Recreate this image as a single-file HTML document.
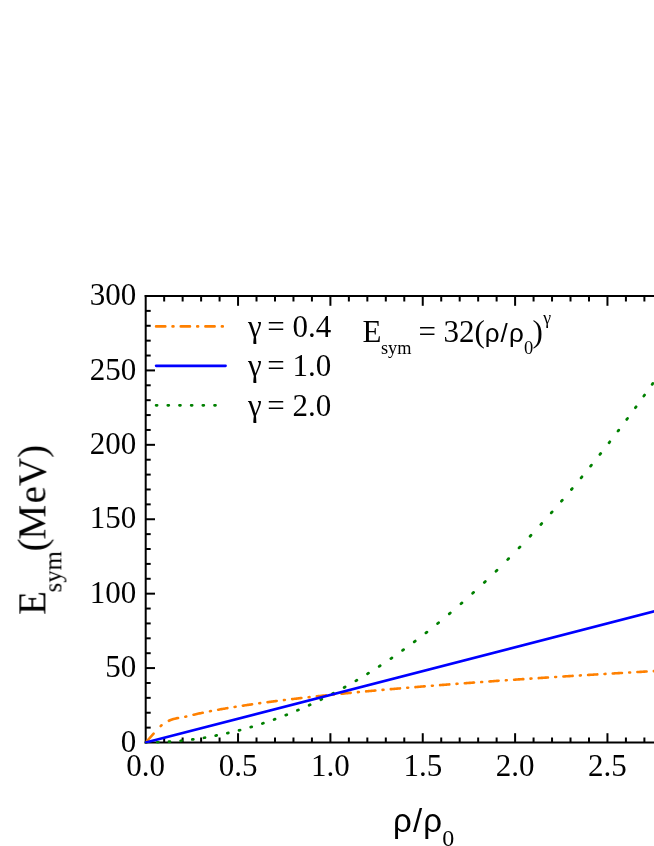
<!DOCTYPE html>
<html><head><meta charset="utf-8"><title>Esym</title>
<style>
html,body{margin:0;padding:0;background:#fff;}
body{width:654px;height:846px;overflow:hidden;font-family:"Liberation Serif",serif;}
svg{display:block;}
text{fill:#000;}
</style></head><body>
<svg width="654" height="846" viewBox="0 0 654 846">
<rect width="654" height="846" fill="#fff"/>
<g id="axes" stroke-linecap="butt">
<line x1="145.70" y1="295.00" x2="145.70" y2="743.50" stroke="#000" stroke-width="2.0"/>
<line x1="144.70" y1="296.00" x2="656.00" y2="296.00" stroke="#000" stroke-width="2.0"/>
<line x1="144.70" y1="742.50" x2="656.00" y2="742.50" stroke="#000" stroke-width="2.0"/>
<line x1="164.17" y1="742.50" x2="164.17" y2="737.50" stroke="#000" stroke-width="2.0"/>
<line x1="164.17" y1="296.00" x2="164.17" y2="301.50" stroke="#000" stroke-width="2.0"/>
<line x1="182.64" y1="742.50" x2="182.64" y2="737.50" stroke="#000" stroke-width="2.0"/>
<line x1="182.64" y1="296.00" x2="182.64" y2="301.50" stroke="#000" stroke-width="2.0"/>
<line x1="201.11" y1="742.50" x2="201.11" y2="737.50" stroke="#000" stroke-width="2.0"/>
<line x1="201.11" y1="296.00" x2="201.11" y2="301.50" stroke="#000" stroke-width="2.0"/>
<line x1="219.58" y1="742.50" x2="219.58" y2="737.50" stroke="#000" stroke-width="2.0"/>
<line x1="219.58" y1="296.00" x2="219.58" y2="301.50" stroke="#000" stroke-width="2.0"/>
<line x1="238.05" y1="742.50" x2="238.05" y2="733.20" stroke="#000" stroke-width="2.0"/>
<line x1="238.05" y1="296.00" x2="238.05" y2="305.80" stroke="#000" stroke-width="2.0"/>
<line x1="256.52" y1="742.50" x2="256.52" y2="737.50" stroke="#000" stroke-width="2.0"/>
<line x1="256.52" y1="296.00" x2="256.52" y2="301.50" stroke="#000" stroke-width="2.0"/>
<line x1="274.99" y1="742.50" x2="274.99" y2="737.50" stroke="#000" stroke-width="2.0"/>
<line x1="274.99" y1="296.00" x2="274.99" y2="301.50" stroke="#000" stroke-width="2.0"/>
<line x1="293.46" y1="742.50" x2="293.46" y2="737.50" stroke="#000" stroke-width="2.0"/>
<line x1="293.46" y1="296.00" x2="293.46" y2="301.50" stroke="#000" stroke-width="2.0"/>
<line x1="311.93" y1="742.50" x2="311.93" y2="737.50" stroke="#000" stroke-width="2.0"/>
<line x1="311.93" y1="296.00" x2="311.93" y2="301.50" stroke="#000" stroke-width="2.0"/>
<line x1="330.40" y1="742.50" x2="330.40" y2="733.20" stroke="#000" stroke-width="2.0"/>
<line x1="330.40" y1="296.00" x2="330.40" y2="305.80" stroke="#000" stroke-width="2.0"/>
<line x1="348.87" y1="742.50" x2="348.87" y2="737.50" stroke="#000" stroke-width="2.0"/>
<line x1="348.87" y1="296.00" x2="348.87" y2="301.50" stroke="#000" stroke-width="2.0"/>
<line x1="367.34" y1="742.50" x2="367.34" y2="737.50" stroke="#000" stroke-width="2.0"/>
<line x1="367.34" y1="296.00" x2="367.34" y2="301.50" stroke="#000" stroke-width="2.0"/>
<line x1="385.81" y1="742.50" x2="385.81" y2="737.50" stroke="#000" stroke-width="2.0"/>
<line x1="385.81" y1="296.00" x2="385.81" y2="301.50" stroke="#000" stroke-width="2.0"/>
<line x1="404.28" y1="742.50" x2="404.28" y2="737.50" stroke="#000" stroke-width="2.0"/>
<line x1="404.28" y1="296.00" x2="404.28" y2="301.50" stroke="#000" stroke-width="2.0"/>
<line x1="422.75" y1="742.50" x2="422.75" y2="733.20" stroke="#000" stroke-width="2.0"/>
<line x1="422.75" y1="296.00" x2="422.75" y2="305.80" stroke="#000" stroke-width="2.0"/>
<line x1="441.22" y1="742.50" x2="441.22" y2="737.50" stroke="#000" stroke-width="2.0"/>
<line x1="441.22" y1="296.00" x2="441.22" y2="301.50" stroke="#000" stroke-width="2.0"/>
<line x1="459.69" y1="742.50" x2="459.69" y2="737.50" stroke="#000" stroke-width="2.0"/>
<line x1="459.69" y1="296.00" x2="459.69" y2="301.50" stroke="#000" stroke-width="2.0"/>
<line x1="478.16" y1="742.50" x2="478.16" y2="737.50" stroke="#000" stroke-width="2.0"/>
<line x1="478.16" y1="296.00" x2="478.16" y2="301.50" stroke="#000" stroke-width="2.0"/>
<line x1="496.63" y1="742.50" x2="496.63" y2="737.50" stroke="#000" stroke-width="2.0"/>
<line x1="496.63" y1="296.00" x2="496.63" y2="301.50" stroke="#000" stroke-width="2.0"/>
<line x1="515.10" y1="742.50" x2="515.10" y2="733.20" stroke="#000" stroke-width="2.0"/>
<line x1="515.10" y1="296.00" x2="515.10" y2="305.80" stroke="#000" stroke-width="2.0"/>
<line x1="533.57" y1="742.50" x2="533.57" y2="737.50" stroke="#000" stroke-width="2.0"/>
<line x1="533.57" y1="296.00" x2="533.57" y2="301.50" stroke="#000" stroke-width="2.0"/>
<line x1="552.04" y1="742.50" x2="552.04" y2="737.50" stroke="#000" stroke-width="2.0"/>
<line x1="552.04" y1="296.00" x2="552.04" y2="301.50" stroke="#000" stroke-width="2.0"/>
<line x1="570.51" y1="742.50" x2="570.51" y2="737.50" stroke="#000" stroke-width="2.0"/>
<line x1="570.51" y1="296.00" x2="570.51" y2="301.50" stroke="#000" stroke-width="2.0"/>
<line x1="588.98" y1="742.50" x2="588.98" y2="737.50" stroke="#000" stroke-width="2.0"/>
<line x1="588.98" y1="296.00" x2="588.98" y2="301.50" stroke="#000" stroke-width="2.0"/>
<line x1="607.45" y1="742.50" x2="607.45" y2="733.20" stroke="#000" stroke-width="2.0"/>
<line x1="607.45" y1="296.00" x2="607.45" y2="305.80" stroke="#000" stroke-width="2.0"/>
<line x1="625.92" y1="742.50" x2="625.92" y2="737.50" stroke="#000" stroke-width="2.0"/>
<line x1="625.92" y1="296.00" x2="625.92" y2="301.50" stroke="#000" stroke-width="2.0"/>
<line x1="644.39" y1="742.50" x2="644.39" y2="737.50" stroke="#000" stroke-width="2.0"/>
<line x1="644.39" y1="296.00" x2="644.39" y2="301.50" stroke="#000" stroke-width="2.0"/>
<line x1="145.70" y1="727.62" x2="150.70" y2="727.62" stroke="#000" stroke-width="2.0"/>
<line x1="145.70" y1="712.73" x2="150.70" y2="712.73" stroke="#000" stroke-width="2.0"/>
<line x1="145.70" y1="697.85" x2="150.70" y2="697.85" stroke="#000" stroke-width="2.0"/>
<line x1="145.70" y1="682.97" x2="150.70" y2="682.97" stroke="#000" stroke-width="2.0"/>
<line x1="145.70" y1="668.08" x2="155.00" y2="668.08" stroke="#000" stroke-width="2.0"/>
<line x1="145.70" y1="653.20" x2="150.70" y2="653.20" stroke="#000" stroke-width="2.0"/>
<line x1="145.70" y1="638.32" x2="150.70" y2="638.32" stroke="#000" stroke-width="2.0"/>
<line x1="145.70" y1="623.43" x2="150.70" y2="623.43" stroke="#000" stroke-width="2.0"/>
<line x1="145.70" y1="608.55" x2="150.70" y2="608.55" stroke="#000" stroke-width="2.0"/>
<line x1="145.70" y1="593.67" x2="155.00" y2="593.67" stroke="#000" stroke-width="2.0"/>
<line x1="145.70" y1="578.78" x2="150.70" y2="578.78" stroke="#000" stroke-width="2.0"/>
<line x1="145.70" y1="563.90" x2="150.70" y2="563.90" stroke="#000" stroke-width="2.0"/>
<line x1="145.70" y1="549.02" x2="150.70" y2="549.02" stroke="#000" stroke-width="2.0"/>
<line x1="145.70" y1="534.13" x2="150.70" y2="534.13" stroke="#000" stroke-width="2.0"/>
<line x1="145.70" y1="519.25" x2="155.00" y2="519.25" stroke="#000" stroke-width="2.0"/>
<line x1="145.70" y1="504.37" x2="150.70" y2="504.37" stroke="#000" stroke-width="2.0"/>
<line x1="145.70" y1="489.48" x2="150.70" y2="489.48" stroke="#000" stroke-width="2.0"/>
<line x1="145.70" y1="474.60" x2="150.70" y2="474.60" stroke="#000" stroke-width="2.0"/>
<line x1="145.70" y1="459.72" x2="150.70" y2="459.72" stroke="#000" stroke-width="2.0"/>
<line x1="145.70" y1="444.83" x2="155.00" y2="444.83" stroke="#000" stroke-width="2.0"/>
<line x1="145.70" y1="429.95" x2="150.70" y2="429.95" stroke="#000" stroke-width="2.0"/>
<line x1="145.70" y1="415.07" x2="150.70" y2="415.07" stroke="#000" stroke-width="2.0"/>
<line x1="145.70" y1="400.18" x2="150.70" y2="400.18" stroke="#000" stroke-width="2.0"/>
<line x1="145.70" y1="385.30" x2="150.70" y2="385.30" stroke="#000" stroke-width="2.0"/>
<line x1="145.70" y1="370.42" x2="155.00" y2="370.42" stroke="#000" stroke-width="2.0"/>
<line x1="145.70" y1="355.53" x2="150.70" y2="355.53" stroke="#000" stroke-width="2.0"/>
<line x1="145.70" y1="340.65" x2="150.70" y2="340.65" stroke="#000" stroke-width="2.0"/>
<line x1="145.70" y1="325.77" x2="150.70" y2="325.77" stroke="#000" stroke-width="2.0"/>
<line x1="145.70" y1="310.88" x2="150.70" y2="310.88" stroke="#000" stroke-width="2.0"/>
</g>
<clipPath id="plotclip"><rect x="144.7" y="290" width="520" height="453.5"/></clipPath>
<g id="curves" stroke-linecap="round" stroke-linejoin="round" clip-path="url(#plotclip)">
<path d="M145.70 742.50 L153.61 733.60 M160.69 726.04 L161.10 725.60 L161.56 725.26 M168.86 720.80 L170.60 720.00 L173.50 718.95 L176.00 718.40 L178.06 718.04 M185.32 716.76 L185.40 716.75 L186.22 716.54 M193.52 714.76 L193.94 714.66 L194.89 714.44 L195.84 714.23 L196.79 714.02 L197.74 713.81 L198.69 713.60 L199.64 713.39 L200.59 713.19 L201.54 712.99 L202.49 712.79 L202.72 712.74 M209.98 711.28 L210.08 711.26 L210.88 711.10 M218.18 709.74 L218.62 709.66 L219.57 709.49 L220.52 709.32 L221.47 709.15 L222.42 708.99 L223.37 708.82 L224.32 708.66 L225.27 708.49 L226.22 708.33 L227.16 708.17 L227.38 708.14 M234.64 706.94 L234.76 706.93 L235.54 706.80 M242.84 705.67 L243.30 705.60 L244.25 705.46 L245.20 705.31 L246.15 705.17 L247.10 705.03 L248.05 704.89 L249.00 704.75 L249.95 704.61 L250.89 704.48 L251.84 704.34 L252.04 704.31 M259.30 703.29 L259.44 703.27 L260.20 703.16 M267.50 702.18 L267.98 702.12 L268.93 701.99 L269.88 701.87 L270.83 701.74 L271.78 701.62 L272.73 701.50 L273.68 701.37 L274.62 701.25 L275.57 701.13 L276.52 701.01 L276.70 700.99 M283.96 700.08 L284.12 700.06 L284.86 699.97 M292.16 699.09 L292.66 699.03 L293.61 698.92 L294.56 698.81 L295.51 698.70 L296.46 698.59 L297.41 698.48 L298.35 698.37 L299.30 698.26 L300.25 698.15 L301.20 698.04 L301.36 698.02 M308.62 697.20 L308.80 697.19 L309.52 697.10 M316.82 696.31 L317.34 696.25 L318.29 696.15 L319.24 696.05 L320.19 695.94 L321.14 695.84 L322.08 695.74 L323.03 695.64 L323.98 695.54 L324.93 695.44 L325.88 695.34 L326.02 695.33 M333.28 694.58 L333.48 694.56 L334.18 694.49 M341.48 693.75 L342.02 693.70 L342.97 693.60 L343.92 693.51 L344.87 693.41 L345.81 693.32 L346.76 693.23 L347.71 693.14 L348.66 693.04 L349.61 692.95 L350.56 692.86 L350.68 692.85 M357.94 692.15 L358.15 692.13 L358.84 692.07 M366.14 691.38 L366.70 691.33 L367.65 691.24 L368.60 691.15 L369.54 691.07 L370.49 690.98 L371.44 690.89 L372.39 690.81 L373.34 690.72 L374.29 690.63 L375.24 690.55 L375.34 690.54 M382.60 689.89 L382.83 689.87 L383.50 689.81 M390.80 689.17 L391.38 689.12 L392.33 689.03 L393.27 688.95 L394.22 688.87 L395.17 688.79 L396.12 688.71 L397.07 688.62 L398.02 688.54 L398.97 688.46 L399.92 688.38 L400.00 688.37 M407.26 687.76 L407.51 687.74 L408.16 687.69 M415.46 687.08 L416.06 687.03 L417.00 686.95 L417.95 686.88 L418.90 686.80 L419.85 686.72 L420.80 686.65 L421.75 686.57 L422.70 686.49 L423.65 686.41 L424.60 686.34 L424.66 686.33 M431.92 685.75 L432.19 685.73 L432.82 685.68 M440.12 685.11 L440.73 685.06 L441.68 684.99 L442.63 684.91 L443.58 684.84 L444.53 684.77 L445.48 684.69 L446.43 684.62 L447.38 684.55 L448.33 684.47 L449.28 684.40 L449.32 684.40 M456.58 683.85 L456.87 683.82 L457.48 683.78 M464.78 683.23 L465.41 683.18 L466.36 683.11 L467.31 683.04 L468.26 682.97 L469.21 682.90 L470.16 682.83 L471.11 682.76 L472.06 682.69 L473.01 682.62 L473.96 682.56 L473.98 682.55 M481.24 682.03 L481.55 682.00 L482.14 681.96 M489.44 681.44 L490.09 681.39 L491.04 681.33 L491.99 681.26 L492.94 681.19 L493.89 681.13 L494.84 681.06 L495.79 680.99 L496.74 680.92 L497.69 680.86 L498.64 680.79 L498.64 680.79 M505.90 680.29 L506.23 680.26 L506.80 680.22 M514.10 679.72 L514.77 679.68 L515.72 679.61 L516.67 679.55 L517.62 679.49 L518.57 679.42 L519.52 679.36 L520.47 679.29 L521.42 679.23 L522.37 679.16 L523.30 679.10 M530.56 678.62 L530.91 678.59 L531.46 678.56 M538.76 678.08 L539.45 678.03 L540.40 677.97 L541.35 677.91 L542.30 677.84 L543.25 677.78 L544.20 677.72 L545.15 677.66 L546.10 677.60 L547.05 677.54 L547.96 677.48 M555.22 677.01 L555.59 676.99 L556.12 676.95 M563.42 676.49 L564.13 676.44 L565.08 676.38 L566.03 676.32 L566.98 676.26 L567.93 676.20 L568.88 676.15 L569.83 676.09 L570.78 676.03 L571.72 675.97 L572.62 675.91 M579.88 675.46 L580.27 675.44 L580.78 675.40 M588.08 674.96 L588.81 674.91 L589.76 674.85 L590.71 674.80 L591.66 674.74 L592.61 674.68 L593.56 674.62 L594.51 674.57 L595.45 674.51 L596.40 674.45 L597.28 674.40 M604.54 673.96 L604.95 673.94 L605.44 673.91 M612.74 673.48 L613.49 673.43 L614.44 673.37 L615.39 673.32 L616.34 673.26 L617.29 673.21 L618.24 673.15 L619.18 673.10 L620.13 673.04 L621.08 672.98 L621.94 672.93 M629.20 672.51 L629.63 672.49 L630.10 672.46 M637.40 672.04 L638.17 672.00 L639.12 671.94 L640.07 671.89 L641.02 671.83 L641.97 671.78 L642.91 671.72 L643.86 671.67 L644.81 671.62 L645.76 671.56 L646.60 671.52 M653.86 671.11 L654.30 671.08 L654.76 671.06" fill="none" stroke="#FF8000" stroke-width="2.6"/>
<path d="M145.70 742.50 L146.56 742.50 L146.60 742.50 M157.28 742.31 L157.70 742.30 L158.28 742.28 M168.96 741.74 L169.70 741.70 L169.96 741.68 M180.64 740.80 L180.84 740.78 L181.64 740.70 M192.32 739.47 L192.84 739.40 L193.32 739.33 M204.00 737.75 L204.84 737.62 L205.00 737.59 M215.68 735.66 L215.99 735.60 L216.68 735.47 M227.36 733.19 L227.99 733.05 L228.36 732.96 M239.04 730.34 L239.13 730.31 L239.99 730.09 L240.04 730.07 M250.72 727.10 L251.13 726.98 L251.72 726.81 M262.40 723.49 L263.13 723.25 L263.40 723.16 M274.08 719.49 L274.27 719.42 L275.08 719.13 M285.76 715.11 L286.28 714.91 L286.76 714.72 M297.44 710.35 L298.28 710.00 L298.44 709.93 M309.12 705.22 L309.42 705.08 L310.12 704.76 M320.80 699.70 L321.42 699.39 L321.80 699.21 M332.48 693.79 L332.56 693.75 L333.42 693.30 L333.48 693.27 M344.16 687.51 L344.56 687.29 L345.16 686.96 M355.84 680.85 L356.56 680.42 L356.84 680.26 M367.52 673.81 L367.71 673.69 L368.52 673.19 M379.20 666.38 L379.71 666.05 L380.20 665.73 M390.88 658.58 L391.71 658.01 L391.88 657.89 M402.56 650.39 L402.85 650.18 L403.56 649.67 M414.24 641.82 L414.85 641.36 L415.24 641.07 M425.92 632.87 L425.99 632.82 L426.85 632.14 L426.92 632.09 M437.60 623.54 L437.99 623.22 L438.60 622.73 M449.28 613.83 L449.99 613.23 L450.28 612.99 M460.96 603.74 L461.14 603.59 L461.96 602.86 M472.64 593.27 L473.14 592.82 L473.64 592.36 M484.32 582.42 L485.14 581.64 L485.32 581.47 M496.00 571.18 L496.28 570.91 L497.00 570.20 M507.66 559.59 L508.28 558.96 L508.65 558.59 M519.04 547.91 L519.42 547.51 L520.00 546.91 M530.08 536.23 L530.57 535.71 L531.01 535.23 M540.81 524.55 L540.85 524.50 L541.71 523.56 L541.72 523.55 M551.26 512.87 L552.00 512.04 L552.14 511.87 M561.45 501.19 L562.28 500.22 L562.31 500.19 M571.39 489.51 L571.71 489.13 L572.23 488.51 M581.11 477.83 L581.14 477.79 L581.93 476.83 M590.61 466.15 L591.41 465.15 M599.91 454.47 L600.00 454.36 L600.70 453.47 M609.03 442.79 L609.43 442.28 L609.80 441.79 M617.97 431.11 L618.00 431.08 L618.73 430.11 M626.75 419.43 L627.43 418.52 L627.49 418.43 M635.37 407.75 L636.00 406.89 L636.10 406.75 M643.84 396.07 L644.56 395.07 M652.17 384.39 L652.29 384.22 L652.87 383.39" fill="none" stroke="#008000" stroke-width="2.75"/>
<path d="M145.70 742.50 L660.00 609.88" fill="none" stroke="#0000FF" stroke-width="2.6"/>
</g>
<g id="legend-samples" stroke-linecap="round">
<path d="M156.10 326.40 L165.30 326.40 M172.56 326.40 L173.46 326.40 M180.76 326.40 L189.96 326.40 M197.22 326.40 L198.12 326.40 M205.42 326.40 L214.62 326.40 M221.88 326.40 L222.78 326.40" fill="none" stroke="#FF8000" stroke-width="2.6"/>
<path d="M156.10000000000002 365.85 L225.6 365.85" fill="none" stroke="#0000FF" stroke-width="2.6"/>
<path d="M156.10 405.30 L157.10 405.30 M167.78 405.30 L168.78 405.30 M179.46 405.30 L180.46 405.30 M191.14 405.30 L192.14 405.30 M202.82 405.30 L203.82 405.30 M214.50 405.30 L215.50 405.30" fill="none" stroke="#008000" stroke-width="2.75"/>
</g>
<g id="labels" style="opacity:0.999">
<text x="136.2" y="751.60" text-anchor="end" font-family="Liberation Serif, serif" font-size="31">0</text>
<text x="136.2" y="677.18" text-anchor="end" font-family="Liberation Serif, serif" font-size="31">50</text>
<text x="136.2" y="602.77" text-anchor="end" font-family="Liberation Serif, serif" font-size="31">100</text>
<text x="136.2" y="528.35" text-anchor="end" font-family="Liberation Serif, serif" font-size="31">150</text>
<text x="136.2" y="453.93" text-anchor="end" font-family="Liberation Serif, serif" font-size="31">200</text>
<text x="136.2" y="379.52" text-anchor="end" font-family="Liberation Serif, serif" font-size="31">250</text>
<text x="136.2" y="305.10" text-anchor="end" font-family="Liberation Serif, serif" font-size="31">300</text>
<text x="145.70" y="775.5" text-anchor="middle" font-family="Liberation Serif, serif" font-size="31">0.0</text>
<text x="238.05" y="775.5" text-anchor="middle" font-family="Liberation Serif, serif" font-size="31">0.5</text>
<text x="330.40" y="775.5" text-anchor="middle" font-family="Liberation Serif, serif" font-size="31">1.0</text>
<text x="422.75" y="775.5" text-anchor="middle" font-family="Liberation Serif, serif" font-size="31">1.5</text>
<text x="515.10" y="775.5" text-anchor="middle" font-family="Liberation Serif, serif" font-size="31">2.0</text>
<text x="607.45" y="775.5" text-anchor="middle" font-family="Liberation Serif, serif" font-size="31">2.5</text>
<text x="248.0" y="336.70" font-family="Liberation Serif, serif" font-size="31">γ</text>
<text x="267.3" y="336.70" font-family="Liberation Serif, serif" font-size="31">=</text>
<text x="292.6" y="336.70" font-family="Liberation Serif, serif" font-size="31">0.4</text>
<text x="248.0" y="376.10" font-family="Liberation Serif, serif" font-size="31">γ</text>
<text x="267.3" y="376.10" font-family="Liberation Serif, serif" font-size="31">=</text>
<text x="292.6" y="376.10" font-family="Liberation Serif, serif" font-size="31">1.0</text>
<text x="248.0" y="415.50" font-family="Liberation Serif, serif" font-size="31">γ</text>
<text x="267.3" y="415.50" font-family="Liberation Serif, serif" font-size="31">=</text>
<text x="292.6" y="415.50" font-family="Liberation Serif, serif" font-size="31">2.0</text>
<text x="362.5" y="341.7" font-family="Liberation Serif, serif" font-size="31">E</text>
<text x="381.0" y="353.90" font-family="Liberation Serif, serif" font-size="18.3">sym</text>
<text x="418.5" y="341.7" font-family="Liberation Serif, serif" font-size="31">=</text>
<text x="443.5" y="341.7" font-family="Liberation Serif, serif" font-size="31">32(</text>
<text x="484.7" y="341.8" font-family="Liberation Sans, sans-serif" font-size="26">ρ</text>
<text x="500.6" y="341.8" font-family="Liberation Sans, sans-serif" font-size="26">/</text>
<text x="508.9" y="341.8" font-family="Liberation Sans, sans-serif" font-size="26">ρ</text>
<text x="523.9" y="353.90" font-family="Liberation Serif, serif" font-size="18.5">0</text>
<text x="532.6" y="341.7" font-family="Liberation Serif, serif" font-size="31">)</text>
<text x="543.2" y="324.3" font-family="Liberation Serif, serif" font-size="17.8">γ</text>
<text x="393.0" y="832.0" font-family="Liberation Sans, sans-serif" font-size="33">ρ</text>
<text x="413.0" y="832.0" font-family="Liberation Sans, sans-serif" font-size="33">/</text>
<text x="423.2" y="832.0" font-family="Liberation Sans, sans-serif" font-size="33">ρ</text>
<text x="442.2" y="845.9" font-family="Liberation Serif, serif" font-size="24">0</text>
<g transform="translate(45.4 614.9) rotate(-90)"><text x="0" y="0" font-family="Liberation Serif, serif" font-size="39.2">E</text><text x="22.5" y="15.5" font-family="Liberation Serif, serif" font-size="24.8">sym</text><text x="63.5" y="0" dx="0 -1.2 1.2" font-family="Liberation Serif, serif" font-size="39.2">(MeV)</text></g>
</g>
</svg>
</body></html>
